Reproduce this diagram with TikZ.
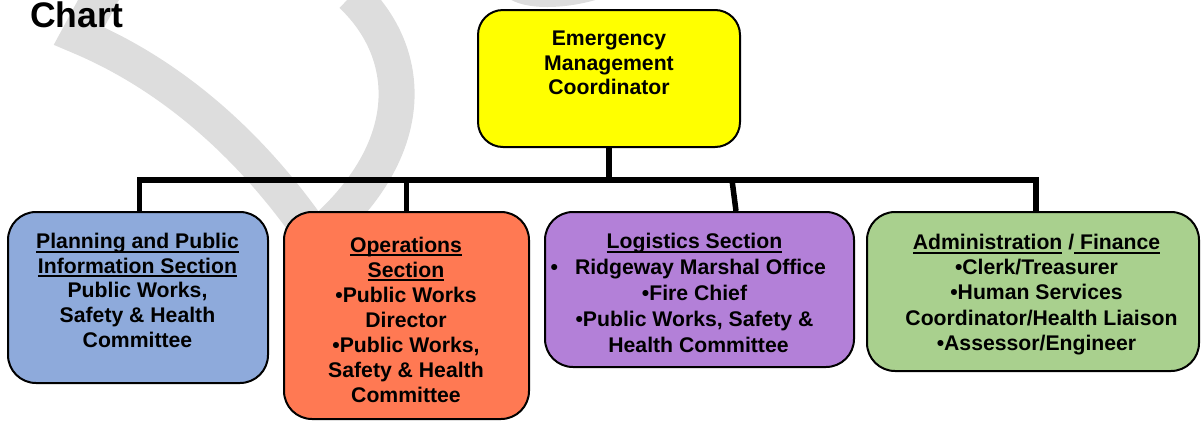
\documentclass[tikz,border=0pt]{standalone}
\usepackage{fontspec}
\setmainfont{Liberation Sans}
\definecolor{yel}{RGB}{255,255,0}
\definecolor{bluebox}{RGB}{142,170,219}
\definecolor{orangebox}{RGB}{255,121,83}
\definecolor{purplebox}{RGB}{179,128,216}
\definecolor{greenbox}{RGB}{169,208,142}
\definecolor{wm}{RGB}{221,221,221}
\newsavebox\ulbox
\newcommand\ulx[1]{\sbox\ulbox{#1}\rlap{\rule[-4.3pt]{\wd\ulbox}{2pt}}\usebox\ulbox}
\tikzset{
 box/.style={draw=black, line width=2pt, rounded corners=28pt, inner sep=0pt},
 conn/.style={draw=black, line width=5.5pt},
 txt/.style={font=\fontsize{21.2}{#1}\selectfont\bfseries, align=center, inner sep=0pt, anchor=north},
 txt/.default=25,
 wmark/.style={draw=wm, line width=36pt}
}
\begin{document}
\begin{tikzpicture}[x=1pt,y=-1pt]
\useasboundingbox (0,0) rectangle (1201,421);
% watermark
\begin{scope}
\clip (0,0) rectangle (1201,421);
\draw[wmark, line join=miter, miter limit=4] (112,-25) -- (79,36) .. controls (165,72) and (250,140) .. (320,245);
\draw[wmark] (352,-5) .. controls (410,50) and (420,140) .. (330,225);
\fill[wm] (508,-2) .. controls (525,10) and (565,10) .. (602,-2) -- cycle;
\end{scope}
% title
\node[font=\fontsize{35.5}{35.5}\selectfont\bfseries, anchor=base west, inner sep=0pt] (title) at (30,27.5) {Chart};
% boxes
\node[box, fill=yel, rounded corners=25pt, minimum width=262pt, minimum height=137pt] (emc) at (609,78.5) {};
\node[box, fill=bluebox, minimum width=260pt, minimum height=171pt] (plan) at (138,297.5) {};
\node[box, fill=orangebox, minimum width=245pt, minimum height=207pt] (ops) at (406.5,315.5) {};
\node[box, fill=purplebox, minimum width=309pt, minimum height=155pt] (log) at (699.5,289.5) {};
\node[box, fill=greenbox, minimum width=332pt, minimum height=159pt] (adm) at (1033,291.5) {};
% connectors
\coordinate (hl) at (139.5,180);
\coordinate (hr) at (1036,180);
\coordinate (lj) at (732,180);
\draw[conn] (emc.south) -- (emc.south |- hl);
\draw[conn] (plan.north -| hl) |- (hr) -- (hr |- adm.north);
\draw[conn] (ops.north) -- (ops.north |- hl);
\draw[conn] (lj) -- ([xshift=36.5pt]log.north);
% texts
\node[txt=24.5] (emct) at (609,30.8) {Emergency\\Management\\Coordinator};
\node[txt=24.75] (plant) at (137.5,232.8) {\ulx{Planning and Public}\\\ulx{Information Section}\\Public Works,\\Safety \& Health\\Committee};
\node[txt=25] (opst) at (406,236.5) {\ulx{Operations}\\\ulx{Section}\\•Public Works\\Director\\•Public Works,\\Safety \& Health\\Committee};
\node[txt=26] (logt) at (694.5,232.8) {\ulx{Logistics Section}\\\hspace*{12pt}\llap{•\hspace{17pt}}Ridgeway Marshal Office\\•Fire Chief\\•Public Works, Safety \&\\\hspace*{8pt}Health Committee};
\node[txt=25.25] (admt) at (1036.5,233.8) {\ulx{Administration} /\ulx{\ Finance}\\•Clerk/Treasurer\\•Human Services\\\hspace*{10pt}Coordinator/Health Liaison\\•Assessor/Engineer};
\end{tikzpicture}
\end{document}
